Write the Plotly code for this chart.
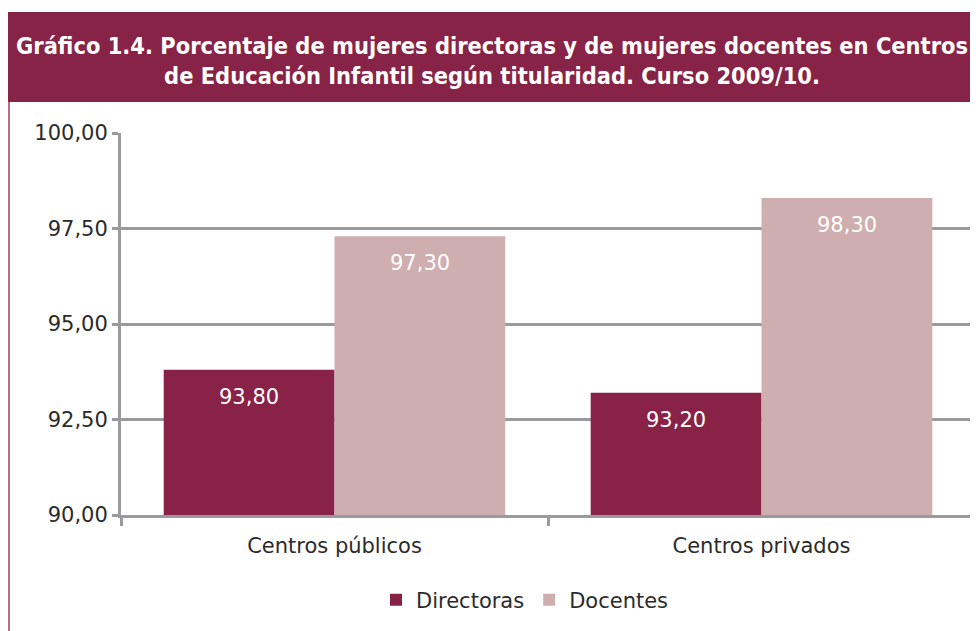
import plotly.graph_objects as go

categories = ["Centros públicos", "Centros privados"]
directoras = [93.80, 93.20]
docentes = [97.30, 98.30]
series_names = ["Directoras", "Docentes"]
title_text = ("Gráfico 1.4. Porcentaje de mujeres directoras y de mujeres docentes en Centros<br>"
              "de Educación Infantil según titularidad. Curso 2009/10.")

C_DIR = "#882246"
C_DOC = "#CFAEAF"
GRID = "#9A9A9C"
TXT = "#2B2B2B"
FONT = "DejaVu Sans"

OFF = 8  # page body margin
W, H = 978 - OFF, 631 - OFF
L, R, T, B = 121 - OFF, 3, 133 - OFF, 116
pw, ph = W - L - R, H - T - B

def px_x(p):
    return (p - OFF - L) / pw

def px_y(p):
    return (H - B - (p - OFF)) / ph

fig = go.Figure()
fig.add_trace(go.Bar(x=categories, y=directoras, name=series_names[0],
                     marker=dict(color=C_DIR, line=dict(width=0))))
fig.add_trace(go.Bar(x=categories, y=docentes, name=series_names[1],
                     marker=dict(color=C_DOC, line=dict(width=0))))

annotations = []
for vals, shift in ((directoras, -85.5), (docentes, 85.5)):
    for c, v in zip(categories, vals):
        annotations.append(dict(
            x=c, y=v, xref="x", yref="y", text=f"{v:.2f}".replace(".", ","),
            showarrow=False, xshift=shift, yshift=-27, yanchor="middle",
            font=dict(family=FONT, size=21, color="white")))

annotations.append(dict(
    x=px_x(492), y=px_y(61), xref="paper", yref="paper", text=title_text,
    showarrow=False, xanchor="center", yanchor="middle",
    font=dict(family="DejaVu Sans Condensed, Roboto Condensed, Liberation Sans Narrow, DejaVu Sans",
              size=23.4, color="white", weight="bold")))

shapes = [
    dict(type="rect", xref="paper", yref="paper",
         x0=px_x(3), x1=px_x(990), y0=px_y(102), y1=px_y(12),
         fillcolor="#872346", line=dict(width=0), layer="below"),
    dict(type="line", xref="paper", yref="paper",
         x0=px_x(9), x1=px_x(9), y0=px_y(102), y1=px_y(650),
         line=dict(color="#A33A5E", width=1.5)),
]

fig.update_layout(
    width=W, height=H,
    margin=dict(l=L, r=R, t=T, b=B),
    paper_bgcolor="white", plot_bgcolor="white",
    separators=",.",
    barmode="group", bargap=0.2, bargroupgap=0,
    font=dict(family=FONT, size=21, color=TXT),
    showlegend=True,
    legend=dict(orientation="h", x=px_x(525), y=px_y(600), xanchor="center", yanchor="middle",
                font=dict(family=FONT, size=21, color=TXT), itemwidth=30, traceorder="normal"),
    annotations=annotations,
    shapes=shapes,
    xaxis=dict(showline=True, linecolor=GRID, linewidth=3,
               ticks="outside", tickson="boundaries", ticklen=8, tickwidth=3, tickcolor=GRID,
               ticklabelstandoff=10,
               showgrid=False, tickfont=dict(family=FONT, size=21, color=TXT)),
    yaxis=dict(range=[90, 100], dtick=2.5, tick0=90, tickformat=".2f",
               showline=True, linecolor=GRID, linewidth=3,
               ticks="outside", ticklen=6, tickwidth=3, tickcolor=GRID,
               showgrid=True, gridcolor=GRID, gridwidth=3, zeroline=False,
               tickfont=dict(family=FONT, size=21, color=TXT)),
)

fig.write_html("out.html")
